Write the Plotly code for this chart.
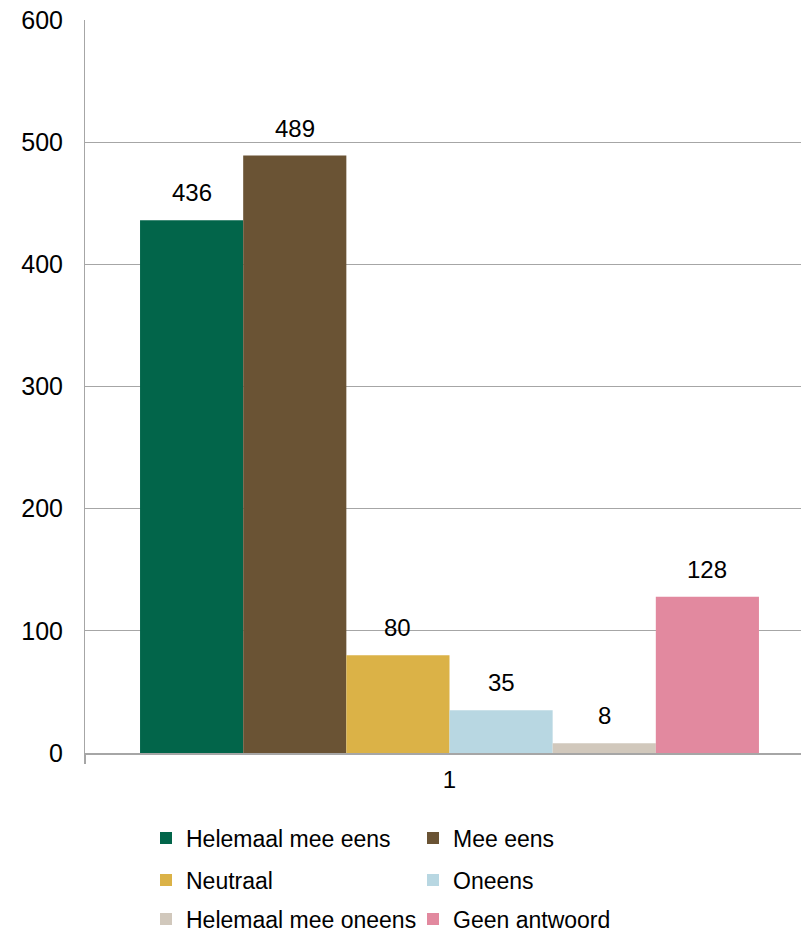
import plotly.graph_objects as go

categories = [1]
series_names = ["Helemaal mee eens", "Mee eens", "Neutraal", "Oneens",
                "Helemaal mee oneens", "Geen antwoord"]
series_values = [436, 489, 80, 35, 8, 128]
series_colors = ["#02654A", "#6A5334", "#DBB247", "#B8D7E2", "#D1C8BC", "#E2899F"]
y_tick_values = [0, 100, 200, 300, 400, 500, 600]
x_tick_labels = ["1"]

FONT = "Liberation Sans, Arial, sans-serif"
BARGAP = 0.151
n = len(series_names)

W, H = 801, 933
ML, MT, MB = 85, 20, 180
plot_w = W - ML
plot_h = H - MT - MB
legend_ids = ["legend", "legend", "legend2", "legend2", "legend3", "legend3"]
row_centers_px = [838, 880, 919]

fig = go.Figure()
for name, val, col, lg in zip(series_names, series_values, series_colors, legend_ids):
    fig.add_trace(go.Bar(
        x=categories, y=[val], name=name, legend=lg,
        marker=dict(color=col, line=dict(width=0)),
    ))

# data labels above each bar, placed at the bar centres of the group
group_w = 1 - BARGAP
for i, val in enumerate(series_values):
    xc = categories[0] - group_w / 2 + (i + 0.5) * group_w / n
    fig.add_annotation(x=xc, y=val, xref="x", yref="y", text=str(val),
                       showarrow=False, yanchor="bottom", yshift=12,
                       font=dict(family=FONT, size=24, color="#000000"))

def legend_cfg(row_px):
    return dict(orientation="h", x=(146 - ML) / plot_w, xanchor="left",
                y=(H - MB - row_px) / plot_h, yanchor="middle",
                entrywidth=222, entrywidthmode="pixels",
                font=dict(family=FONT, size=23, color="#000000"),
                itemclick=False, itemdoubleclick=False,
                traceorder="normal", bgcolor="rgba(0,0,0,0)")

unit_px = 729
fig.update_layout(
    width=W, height=H,
    margin=dict(l=ML, r=0, t=MT, b=MB, pad=0, autoexpand=False),
    paper_bgcolor="white", plot_bgcolor="white",
    barmode="group", bargap=BARGAP, bargroupgap=0,
    font=dict(family=FONT, size=24, color="#000000"),
    showlegend=True,
    legend=legend_cfg(row_centers_px[0]),
    legend2=legend_cfg(row_centers_px[1]),
    legend3=legend_cfg(row_centers_px[2]),
    xaxis=dict(range=[0.5, 0.5 + plot_w / unit_px], automargin=False,
               tickmode="array", tickvals=categories, ticktext=x_tick_labels,
               ticks="outside", ticklen=4, tickcolor="rgba(0,0,0,0)",
               showgrid=False, zeroline=False,
               showline=True, linecolor="#A6A6A6", linewidth=2,
               minor=dict(tickmode="array", tickvals=[0.5, 1.5],
                          ticks="outside", ticklen=9, tickcolor="#A6A6A6",
                          tickwidth=2, showgrid=False),
               tickfont=dict(family=FONT, size=24, color="#000000"),
               fixedrange=True),
    yaxis=dict(range=[0, 600], tickmode="array", tickvals=y_tick_values,
               automargin=False,
               showgrid=True, gridcolor="#A6A6A6", gridwidth=1,
               zeroline=False, showline=True, linecolor="#A6A6A6", linewidth=1,
               ticks="outside", ticklen=16, tickcolor="rgba(0,0,0,0)",
               tickfont=dict(family=FONT, size=25, color="#000000"),
               fixedrange=True),
)

fig.write_html("out.html",
               config={"displayModeBar": False, "staticPlot": True},
               post_script="document.body.style.margin='0';"
                           "document.body.style.overflow='hidden';")
